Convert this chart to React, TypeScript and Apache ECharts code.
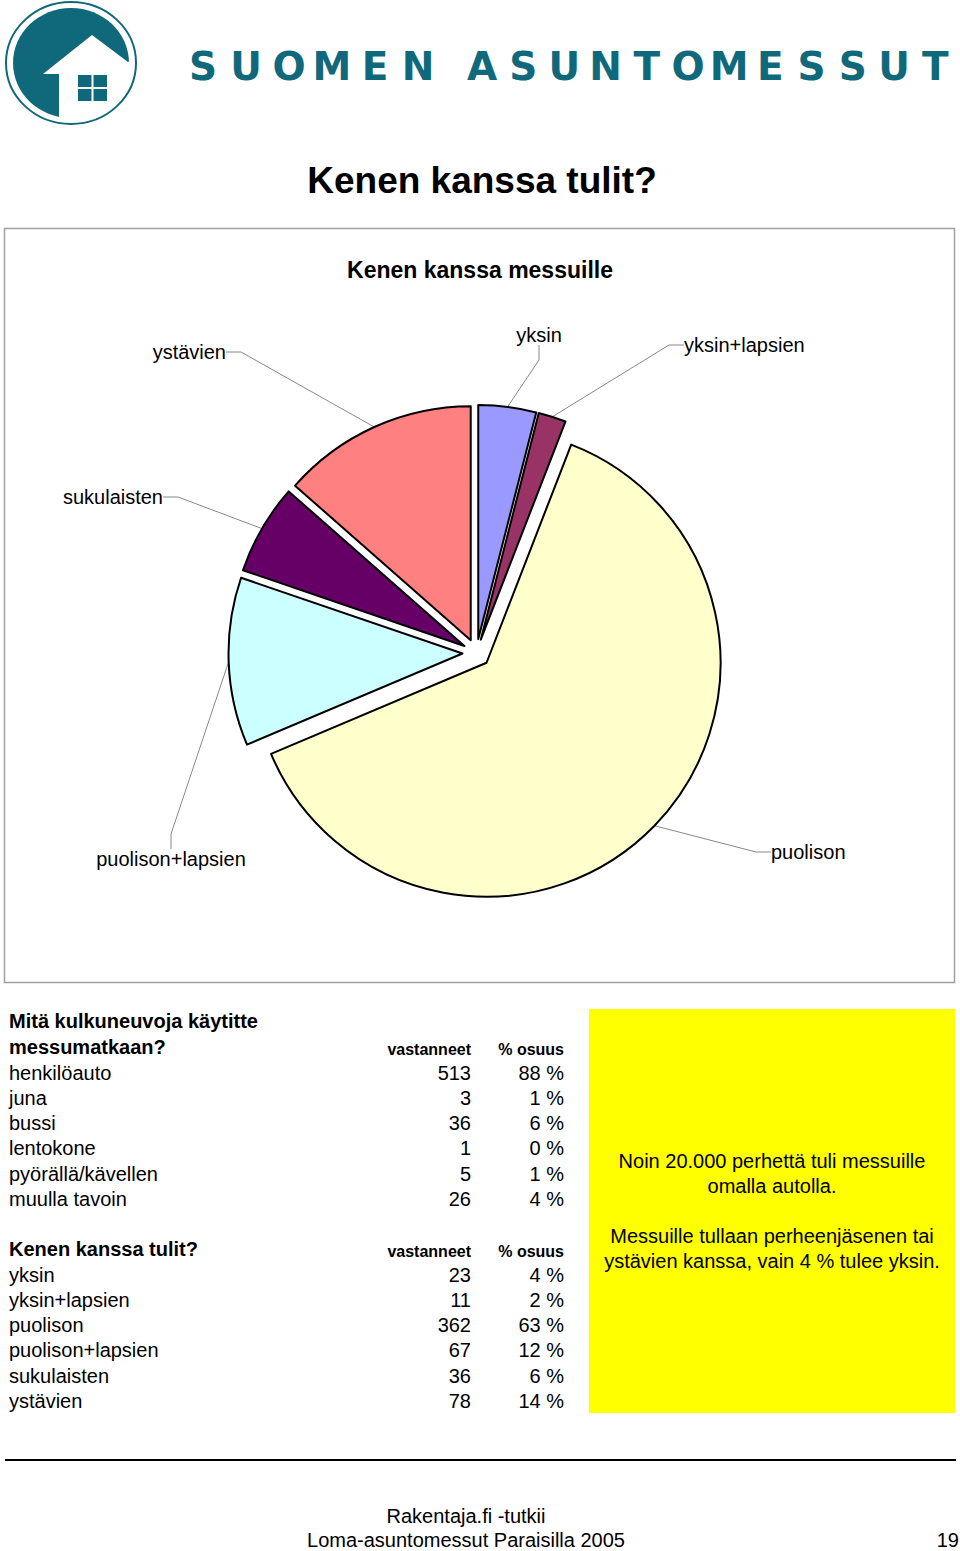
import React, { useEffect, useRef } from "react";
import * as echarts from "echarts";

// ---- Data ----
const companionCategories = ["yksin", "yksin+lapsien", "puolison", "puolison+lapsien", "sukulaisten", "ystävien"];
const companionCounts = [23, 11, 362, 67, 36, 78];
const companionShares = ["4 %", "2 %", "63 %", "12 %", "6 %", "14 %"];

const transportModes = ["henkilöauto", "juna", "bussi", "lentokone", "pyörällä/kävellen", "muulla tavoin"];
const transportCounts = [513, 3, 36, 1, 5, 26];
const transportShares = ["88 %", "1 %", "6 %", "0 %", "1 %", "4 %"];

const sliceColors = ["#9999FF", "#993366", "#FFFFCC", "#CCFFFF", "#660066", "#FF8080"];

const brandWords = ["SUOMEN", "ASUNTOMESSUT"];
const noteLines = [
  "Noin 20.000 perhettä tuli messuille",
  "omalla autolla.",
  "",
  "Messuille tullaan perheenjäsenen tai",
  "ystävien kanssa, vain 4 % tulee yksin.",
];

// label placement (x, y, align) for each slice label
const labelPlacement: [number, number, string][] = [
  [539, 335, "center"],
  [684, 345, "left"],
  [771, 852, "left"],
  [171, 859, "center"],
  [163, 497, "right"],
  [226, 352, "right"],
];

const FONT = "'Liberation Sans', Arial, Helvetica, sans-serif";
const TEAL = "#10697A";
const PIE_CENTER = [476.5, 653];
const PIE_RADIUS = 234;
const EXPLODE = 14;

function txt(text: string, x: number, y: number, opts: any = {}) {
  const align = opts.align || "left";
  return {
    type: "text",
    x,
    y,
    silent: true,
    style: {
      text,
      fill: opts.fill || "#000",
      fontSize: opts.fontSize || 20,
      fontFamily: opts.fontFamily || FONT,
      fontWeight: opts.fontWeight || "normal",
      align,
      textAlign: align,
      verticalAlign: "middle",
      textVerticalAlign: "middle",
    },
  };
}

function buildPieSeries() {
  const total = companionCounts.reduce((a, b) => a + b, 0);
  let cum = 0;
  return companionCategories.map((cat, i) => {
    const v = companionCounts[i];
    const mid = ((cum + v / 2) / total) * 2 * Math.PI;
    cum += v;
    const center = [PIE_CENTER[0] + EXPLODE * Math.sin(mid), PIE_CENTER[1] - EXPLODE * Math.cos(mid)];
    return {
      type: "pie",
      name: cat,
      center,
      radius: PIE_RADIUS,
      startAngle: 90,
      clockwise: true,
      avoidLabelOverlap: false,
      silent: true,
      emphasis: { disabled: true },
      label: {
        show: true,
        position: "outside",
        formatter: "{b}",
        fontFamily: FONT,
        fontSize: 20,
        color: "#000",
      },
      labelLine: { show: true, length: 15, length2: 15, lineStyle: { color: "#888", width: 1 } },
      labelLayout: (params: any) => {
        if (params.dataIndex !== i) return {};
        const p = labelPlacement[i];
        return { x: p[0], y: p[1], align: p[2], verticalAlign: "middle" };
      },
      data: companionCategories.map((name, j) =>
        j === i
          ? { name, value: companionCounts[j], itemStyle: { color: sliceColors[j], borderColor: "#000", borderWidth: 2 } }
          : {
              name,
              value: companionCounts[j],
              itemStyle: { color: "rgba(0,0,0,0)", borderWidth: 0 },
              label: { show: false },
              labelLine: { show: false },
            }
      ),
    };
  });
}

export default function App() {
  const ref = useRef<HTMLDivElement>(null);

  useEffect(() => {
    if (!ref.current) return;
    const chart = echarts.init(ref.current, null, { renderer: "svg" });

    const graphics: any[] = [];

    // Logo
    graphics.push({ type: "ellipse", shape: { cx: 71, cy: 63, rx: 58, ry: 55 }, style: { fill: TEAL }, silent: true });
    graphics.push({
      type: "polygon",
      shape: { points: [[92, 35], [43, 74], [59, 74], [59, 128], [140, 128], [140, 58], [128, 62]] },
      style: { fill: "#fff" },
      silent: true,
    });
    graphics.push({ type: "ellipse", shape: { cx: 71, cy: 63, rx: 65, ry: 61 }, style: { fill: "none", stroke: TEAL, lineWidth: 2 }, silent: true });
    [[78, 75], [93.5, 75], [78, 89], [93.5, 89]].forEach(([x, y]) => {
      graphics.push({ type: "rect", shape: { x, y, width: 13.5, height: 12 }, style: { fill: TEAL }, silent: true });
    });

    // Brand wordmark
    brandWords[0].split("").forEach((ch, i) => {
      graphics.push(txt(ch, 203 + i * 43, 66, { fontSize: 39, fontWeight: "bold", fill: TEAL, align: "center", fontFamily: "'DejaVu Sans', sans-serif" }));
    });
    brandWords[1].split("").forEach((ch, i) => {
      graphics.push(txt(ch, 482 + i * 41.2, 66, { fontSize: 39, fontWeight: "bold", fill: TEAL, align: "center", fontFamily: "'DejaVu Sans', sans-serif" }));
    });

    // Page title
    graphics.push(txt("Kenen kanssa tulit?", 482, 180, { fontSize: 37, fontWeight: "bold", align: "center" }));

    // Chart box
    graphics.push({ type: "rect", shape: { x: 4.5, y: 228.5, width: 950, height: 754 }, style: { fill: "none", stroke: "#A0A0A0", lineWidth: 1.5 }, silent: true, z: -1 });

    // Tables
    const rowH = 25.3;
    graphics.push(txt("Mitä kulkuneuvoja käytitte", 9, 1021, { fontWeight: "bold" }));
    graphics.push(txt("messumatkaan?", 9, 1047, { fontWeight: "bold" }));
    graphics.push(txt("vastanneet", 471, 1049, { fontWeight: "bold", fontSize: 16, align: "right" }));
    graphics.push(txt("% osuus", 564, 1049, { fontWeight: "bold", fontSize: 16, align: "right" }));
    transportModes.forEach((m, i) => {
      const y = 1072.5 + i * rowH;
      graphics.push(txt(m, 9, y));
      graphics.push(txt(String(transportCounts[i]), 471, y, { align: "right" }));
      graphics.push(txt(transportShares[i], 564, y, { align: "right" }));
    });
    graphics.push(txt("Kenen kanssa tulit?", 9, 1249, { fontWeight: "bold" }));
    graphics.push(txt("vastanneet", 471, 1251, { fontWeight: "bold", fontSize: 16, align: "right" }));
    graphics.push(txt("% osuus", 564, 1251, { fontWeight: "bold", fontSize: 16, align: "right" }));
    companionCategories.forEach((c, i) => {
      const y = 1274.5 + i * rowH;
      graphics.push(txt(c, 9, y));
      graphics.push(txt(String(companionCounts[i]), 471, y, { align: "right" }));
      graphics.push(txt(companionShares[i], 564, y, { align: "right" }));
    });

    // Yellow note
    graphics.push({ type: "rect", shape: { x: 589, y: 1009, width: 366, height: 404 }, style: { fill: "#FFFF00" }, silent: true });
    noteLines.forEach((line, i) => {
      if (line) graphics.push(txt(line, 772, 1160.5 + i * 25.2, { align: "center" }));
    });

    // Footer
    graphics.push({ type: "line", shape: { x1: 5, y1: 1460, x2: 956, y2: 1460 }, style: { stroke: "#000", lineWidth: 2 }, silent: true });
    graphics.push(txt("Rakentaja.fi -tutkii", 466, 1516, { align: "center" }));
    graphics.push(txt("Loma-asuntomessut Paraisilla 2005", 466, 1539.5, { align: "center" }));
    graphics.push(txt("19", 959, 1539.5, { align: "right" }));

    chart.setOption({
      animation: false,
      backgroundColor: "#fff",
      title: {
        text: "Kenen kanssa messuille",
        left: "center",
        top: 258,
        padding: 0,
        textStyle: { fontFamily: FONT, fontSize: 23, fontWeight: "bold", color: "#000" },
      },
      graphic: { elements: graphics },
      series: buildPieSeries(),
    });

    return () => chart.dispose();
  }, []);

  return <div ref={ref} style={{ position: "absolute", left: 0, top: 0, width: 960, height: 1551 }} />;
}
